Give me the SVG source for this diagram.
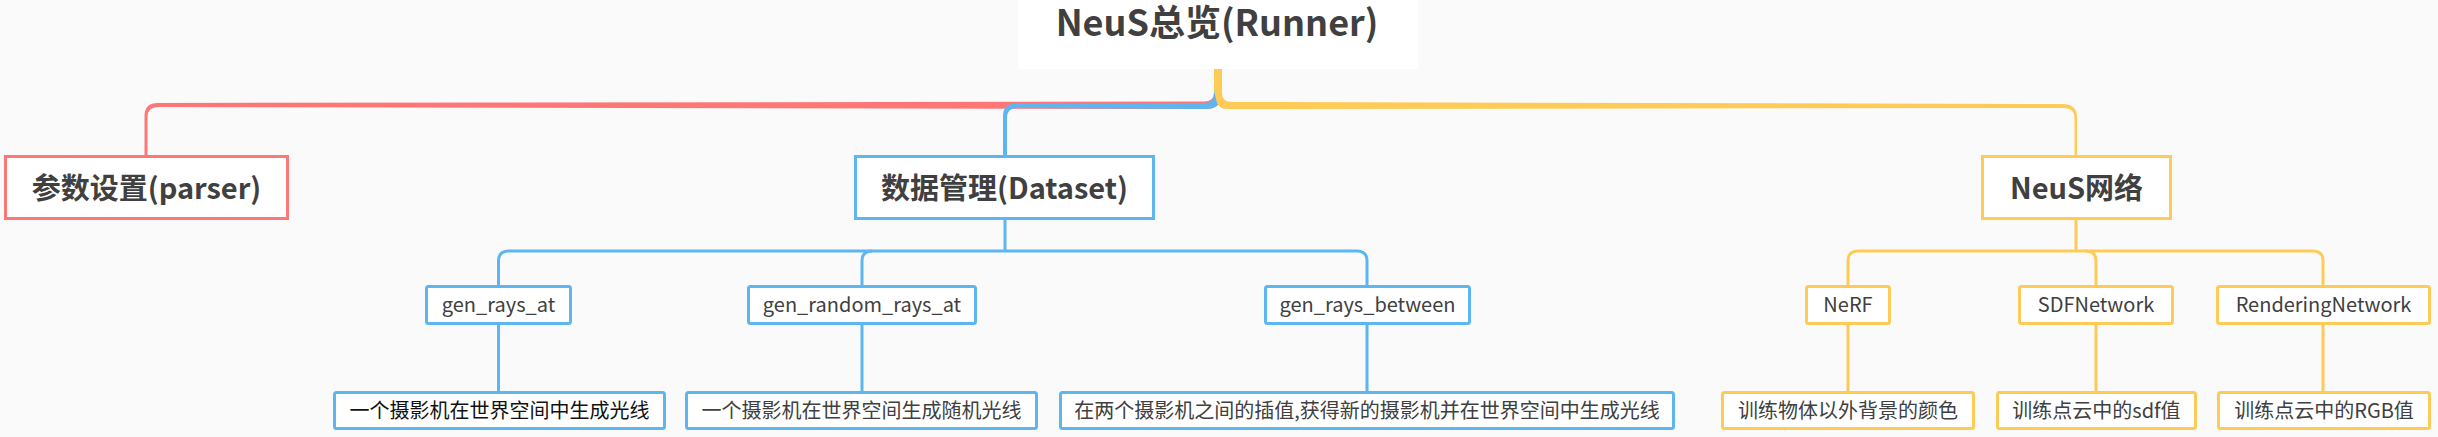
<svg xmlns="http://www.w3.org/2000/svg" width="2438" height="437" viewBox="0 0 2438 437">
<style>
text{font-family:"Noto Sans CJK SC","Noto Sans",sans-serif;fill:#404040;text-anchor:middle}
.t0{font-size:36px;font-weight:bold}
.t1{font-size:29px;font-weight:bold}
.t2{font-size:20px}
.box{fill:#ffffff;stroke-width:3}
.r{stroke:#FF7676}
.b{stroke:#5DB6F0}
.y{stroke:#FECB56}
.ln{fill:none;stroke-width:3}
</style>
<rect x="0" y="0" width="2438" height="437" fill="#FAFAFA"/>
<g id="connectors">
<path fill="#FF7676" d="M1214,69 L1214,93 Q1214,101.5 1204,101.5 L158,103 Q144.5,103 144.5,116 L144.5,157 L147.5,157 L147.5,117 Q147.5,107 158,107 L1206,109 Q1222,109 1222,93 L1222,69 Z"/>
<path fill="#5DB6F0" d="M1214,69 L1214,93 Q1214,103 1204,103 L1016,103.5 Q1003,103.5 1003,116 L1003,157 L1007,157 L1007,118 Q1007,108 1017,108 L1206,109 Q1220,109 1220,95 L1222,69 Z"/>
<path fill="#FECB56" d="M1222,69 L1222,93 Q1222,102 1232,102 L2062,104 Q2077,104 2077,117 L2077,157 L2074.5,157 L2074.5,118 Q2074.5,108 2064,108 L1228,109 Q1217,109 1216,99 L1214,90 L1214,69 Z"/>
<g class="ln b">
<path d="M1005,219 L1005,251"/>
<path d="M498.5,287 L498.5,261 Q498.5,251 508.5,251 L1357,251 Q1367,251 1367,261 L1367,287"/>
<path d="M872,251 Q862,251 862,261 L862,287"/>
<path d="M498.5,324 L498.5,392"/>
<path d="M862,324 L862,392"/>
<path d="M1367,324 L1367,392"/>
</g>
<g class="ln y">
<path d="M2076,219 L2076,251"/>
<path d="M1848,287 L1848,261 Q1848,251 1858,251 L2313,251 Q2323,251 2323,261 L2323,287"/>
<path d="M2086,251 Q2096,251 2096,261 L2096,287"/>
<path d="M1848,324 L1848,392"/>
<path d="M2096,324 L2096,392"/>
<path d="M2323,324 L2323,392"/>
</g>
</g>
<g id="root">
<rect x="1018" y="0" width="400" height="69" fill="#ffffff"/>
<text class="t0" x="1217" y="36">NeuS总览(Runner)</text>
</g>
<g id="parser">
<rect class="box r" x="5.5" y="156.5" width="282" height="62"/>
<text class="t1" x="146.5" y="199">参数设置(parser)</text>
</g>
<g id="dataset">
<rect class="box b" x="855.5" y="156.5" width="298" height="62"/>
<text class="t1" x="1004.5" y="199">数据管理(Dataset)</text>
</g>
<g id="neus-net">
<rect class="box y" x="1982.5" y="156.5" width="188" height="62"/>
<text class="t1" x="2076.5" y="199">NeuS网络</text>
</g>
<g id="gen_rays_at">
<rect class="box b" x="426.5" y="286.5" width="144" height="37" rx="2"/>
<text class="t2" x="498.5" y="312">gen_rays_at</text>
</g>
<g id="gen_random_rays_at">
<rect class="box b" x="748.5" y="286.5" width="227" height="37" rx="2"/>
<text class="t2" x="862" y="312">gen_random_rays_at</text>
</g>
<g id="gen_rays_between">
<rect class="box b" x="1265.5" y="286.5" width="204" height="37" rx="2"/>
<text class="t2" x="1367.5" y="312">gen_rays_between</text>
</g>
<g id="nerf">
<rect class="box y" x="1806.5" y="286.5" width="83" height="37" rx="2"/>
<text class="t2" x="1848" y="312">NeRF</text>
</g>
<g id="sdfnetwork">
<rect class="box y" x="2019.5" y="286.5" width="153" height="37" rx="2"/>
<text class="t2" x="2096" y="312">SDFNetwork</text>
</g>
<g id="renderingnetwork">
<rect class="box y" x="2217.5" y="286.5" width="212" height="37" rx="2"/>
<text class="t2" x="2323.5" y="312">RenderingNetwork</text>
</g>
<g id="leaf1">
<rect class="box b" x="334.5" y="392.5" width="330" height="36" rx="2"/>
<text class="t2" x="499.5" y="418" style="fill:#111111">一个摄影机在世界空间中生成光线</text>
</g>
<g id="leaf2">
<rect class="box b" x="686.5" y="392.5" width="350" height="36" rx="2"/>
<text class="t2" x="861.5" y="418">一个摄影机在世界空间生成随机光线</text>
</g>
<g id="leaf3">
<rect class="box b" x="1060.5" y="392.5" width="613" height="36" rx="2"/>
<text class="t2" x="1367" y="418">在两个摄影机之间的插值,获得新的摄影机并在世界空间中生成光线</text>
</g>
<g id="leaf4">
<rect class="box y" x="1722.5" y="392.5" width="251" height="36" rx="2"/>
<text class="t2" x="1848" y="418">训练物体以外背景的颜色</text>
</g>
<g id="leaf5">
<rect class="box y" x="1997.5" y="392.5" width="198" height="36" rx="2"/>
<text class="t2" x="2096.5" y="418">训练点云中的sdf值</text>
</g>
<g id="leaf6">
<rect class="box y" x="2218.5" y="392.5" width="211" height="36" rx="2"/>
<text class="t2" x="2324" y="418">训练点云中的RGB值</text>
</g>
</svg>
